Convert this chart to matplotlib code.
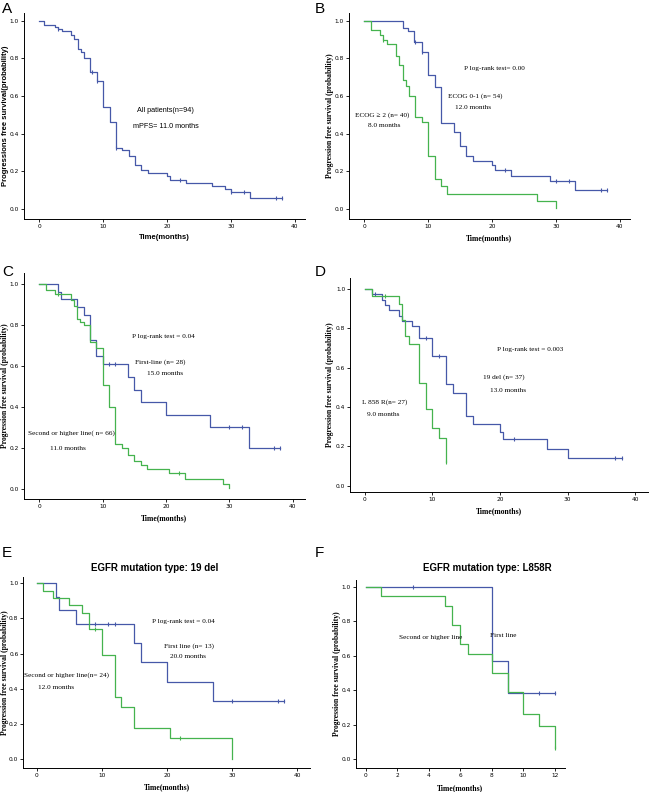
import matplotlib
matplotlib.use('Agg')
import matplotlib.pyplot as plt
import numpy as np

blue = '#4658a8'
green = '#45b34e'

# A - all patients
a_t = [0, 0.8, 2.5, 3, 3.5, 5, 5.5, 6, 6.6, 7, 8, 9, 10, 11, 12, 13, 14, 15, 16, 17, 20, 20.5, 23, 27, 29, 30, 33, 38]
a_s = [1.0, 0.979, 0.968, 0.957, 0.947, 0.926, 0.904, 0.851, 0.835, 0.80, 0.727, 0.68, 0.54, 0.463, 0.325, 0.31, 0.28, 0.233, 0.205, 0.188, 0.172, 0.155, 0.138, 0.122, 0.105, 0.087, 0.058, 0.058]
a_c = [3, 8.2, 9.1, 12, 22, 30, 32, 37, 38]

# B - ECOG
b1_t = [0, 6, 6.8, 7.8, 9, 10, 11, 12, 14, 15, 16, 17, 20, 20.5, 23, 29, 33, 38]
b1_s = [1.0, 0.963, 0.944, 0.889, 0.833, 0.713, 0.65, 0.456, 0.41, 0.333, 0.28, 0.255, 0.23, 0.204, 0.175, 0.145, 0.097, 0.097]
b1_c = [8, 9, 22, 30, 32, 37, 38]
b2_t = [0, 1, 2.5, 3, 3.5, 5, 5.5, 6, 6.5, 7, 8, 9, 10, 11, 12, 13, 27, 30]
b2_s = [1.0, 0.95, 0.925, 0.9, 0.875, 0.815, 0.765, 0.685, 0.655, 0.6, 0.49, 0.463, 0.278, 0.158, 0.12, 0.08, 0.04, 0.005]
b2_c = [3]

# C - treatment line
c1_t = [0, 3, 3.4, 5.9, 7, 8, 9, 10, 14, 15, 16, 20, 27, 33, 38]
c1_s = [1.0, 0.963, 0.926, 0.889, 0.85, 0.73, 0.65, 0.61, 0.546, 0.487, 0.426, 0.365, 0.304, 0.203, 0.203]
c1_c = [11, 12, 30, 32, 37, 38]
c2_t = [0, 1, 2.5, 5, 5.5, 6, 6.5, 7, 8, 9, 10, 11, 12, 13, 14, 15, 16, 17, 20.5, 23, 29, 30]
c2_s = [1.0, 0.97, 0.955, 0.925, 0.893, 0.833, 0.818, 0.8, 0.72, 0.69, 0.51, 0.404, 0.22, 0.2, 0.17, 0.138, 0.12, 0.1, 0.08, 0.053, 0.027, 0.005]
c2_c = [3, 22]

# D - mutation type
d1_t = [0, 1, 2.5, 3, 3.5, 5, 5.5, 7, 8, 10, 12, 13, 15, 16, 20, 20.5, 27, 30, 38]
d1_s = [1.0, 0.973, 0.946, 0.919, 0.892, 0.865, 0.838, 0.81, 0.75, 0.66, 0.515, 0.47, 0.355, 0.315, 0.275, 0.236, 0.189, 0.142, 0.142]
d1_c = [1.5, 9, 11, 22, 37, 38]
d2_t = [0, 1, 5, 5.5, 6, 6.5, 8, 9, 10, 11, 12]
d2_s = [1.0, 0.963, 0.925, 0.845, 0.76, 0.72, 0.52, 0.39, 0.293, 0.244, 0.12]
d2_c = [3, 12]

# E - 19 del by line
e1_t = [0, 3, 3.5, 6, 15, 16, 20, 27, 38]
e1_s = [1.0, 0.923, 0.846, 0.77, 0.66, 0.55, 0.44, 0.33, 0.33]
e1_c = [9, 11, 12, 30, 37, 38]
e2_t = [0, 1, 2.5, 5, 7, 8, 10, 12, 13, 15, 20.5, 30]
e2_s = [1.0, 0.958, 0.917, 0.875, 0.83, 0.74, 0.59, 0.355, 0.295, 0.177, 0.118, 0.0]
e2_c = [9, 22]

# F - L858R by line
f1_t = [0, 8, 9, 12]
f1_s = [1.0, 0.571, 0.382, 0.382]
f1_c = [3, 11, 12]
f2_t = [0, 1, 5, 5.5, 6, 6.5, 8, 9, 10, 11, 12]
f2_s = [1.0, 0.944, 0.889, 0.778, 0.667, 0.611, 0.5, 0.39, 0.26, 0.195, 0.065]
f2_c = [12]


def km(ax, t, s, cens, color):
    t = np.array(t, dtype=float)
    s = np.array(s, dtype=float)
    ax.step(t, s, where='post', color=color, lw=0.9)
    ct = np.array(cens, dtype=float)
    idx = np.searchsorted(t, ct, side='right') - 1
    ax.plot(ct, s[idx], '|', color=color, ms=3, mew=0.8)


def style(ax, xl, yl, ylab, serif, xticks, ylx):
    ax.set_xlim(*xl)
    ax.set_ylim(*yl)
    ax.spines['top'].set_visible(False)
    ax.spines['right'].set_visible(False)
    ax.spines['left'].set_linewidth(0.7)
    ax.spines['bottom'].set_linewidth(0.7)
    ax.set_yticks([0, 0.2, 0.4, 0.6, 0.8, 1.0])
    ax.set_yticklabels(['0.0', '0.2', '0.4', '0.6', '0.8', '1.0'])
    ax.set_xticks(xticks)
    ax.tick_params(length=2, width=0.6, labelsize=4.2, pad=1.5)
    fam = 'Liberation Serif' if serif else 'Liberation Sans'
    ax.set_xlabel('Time(months)', fontsize=5.5, fontweight='bold', family=fam, labelpad=4)
    ax.set_ylabel(ylab, fontsize=5.5, fontweight='bold', family=fam)
    ax.yaxis.set_label_coords(ylx, 0.5)


fig = plt.figure(figsize=(6.5, 7.92), dpi=100)

serif = 'Liberation Serif'
tk = dict(fontsize=5.2, family=serif, ha='center', va='center')

# A
ax = fig.add_axes([0.0369, 0.7235, 0.4323, 0.2597])
km(ax, a_t, a_s, a_c, blue)
style(ax, (-2.4, 41.6), (-0.055, 1.04), 'Progressions free survival(probability)', False, [0, 10, 20, 30, 40], -0.053)
ax.text(19.8, 0.525, 'All patients(n=94)', fontsize=5.2, family='Liberation Sans', ha='center', va='center')
ax.text(19.8, 0.44, 'mPFS= 11.0 months', fontsize=5.2, family='Liberation Sans', ha='center', va='center')

# B
ax = fig.add_axes([0.5369, 0.7235, 0.4323, 0.2597])
km(ax, b1_t, b1_s, b1_c, blue)
km(ax, b2_t, b2_s, b2_c, green)
style(ax, (-2.4, 41.6), (-0.055, 1.04), 'Progression free survival (probability)', True, [0, 10, 20, 30, 40], -0.053)
ax.text(20.4, 0.747, 'P log-rank test= 0.00', **tk)
ax.text(17.3, 0.597, 'ECOG 0-1 (n= 54)', **tk)
ax.text(17.0, 0.54, '12.0 months', **tk)
ax.text(2.8, 0.5, 'ECOG \u2265 2 (n= 40)', **tk)
ax.text(3.2, 0.442, '8.0 months', **tk)

# C
ax = fig.add_axes([0.0369, 0.3699, 0.4323, 0.2854])
km(ax, c1_t, c1_s, c1_c, blue)
km(ax, c2_t, c2_s, c2_c, green)
style(ax, (-2.4, 41.9), (-0.047, 1.055), 'Progression free survival (probability)', True, [0, 10, 20, 30, 40], -0.053)
ax.text(19.6, 0.745, 'P log-rank test = 0.04', **tk)
ax.text(19.05, 0.623, 'First-line (n= 28)', **tk)
ax.text(19.9, 0.563, '15.0 months', **tk)
ax.text(5.1, 0.273, 'Second or higher line( n= 66)', **tk)
ax.text(4.6, 0.2, '11.0 months', **tk)

# D
ax = fig.add_axes([0.5385, 0.3792, 0.4585, 0.2698])
km(ax, d1_t, d1_s, d1_c, blue)
km(ax, d2_t, d2_s, d2_c, green)
style(ax, (-2.2, 41.9), (-0.03, 1.056), 'Progression free survival (probability)', True, [0, 10, 20, 30, 40], -0.054)
ax.text(24.5, 0.693, 'P log-rank test = 0.003', **tk)
ax.text(20.5, 0.55, '19 del (n= 37)', **tk)
ax.text(21.2, 0.486, '13.0 months', **tk)
ax.text(3.0, 0.427, 'L 858 R(n= 27)', **tk)
ax.text(2.7, 0.363, '9.0 months', **tk)

# E
ax = fig.add_axes([0.0358, 0.0303, 0.4411, 0.2415])
km(ax, e1_t, e1_s, e1_c, blue)
km(ax, e2_t, e2_s, e2_c, green)
style(ax, (-2.06, 41.95), (-0.05, 1.037), 'Progression free survival (probability)', True, [0, 10, 20, 30, 40], -0.05)
ax.text(22.5, 0.782, 'P log-rank test = 0.04', **tk)
ax.text(23.4, 0.64, 'First line (n= 13)', **tk)
ax.text(23.3, 0.583, '20.0 months', **tk)
ax.text(4.5, 0.48, 'Second or higher line(n= 24)', **tk)
ax.text(3.0, 0.41, '12.0 months', **tk)

# F
ax = fig.add_axes([0.5472, 0.0299, 0.322, 0.2378])
km(ax, f1_t, f1_s, f1_c, blue)
km(ax, f2_t, f2_s, f2_c, green)
style(ax, (-0.63, 12.63), (-0.052, 1.039), 'Progression free survival (probability)', True, [0, 2, 4, 6, 8, 10, 12], -0.072)
ax.text(8.7, 0.718, 'First line', **tk)
ax.text(4.1, 0.707, 'Second or higher line', **tk)

fig.text(0.238, 0.283, 'EGFR mutation type: 19 del', fontsize=7, fontweight='bold', family='Liberation Sans', ha='center', va='center')
fig.text(0.749, 0.283, 'EGFR mutation type: L858R', fontsize=7, fontweight='bold', family='Liberation Sans', ha='center', va='center')

for lab, x, y in [('A', 0.003, 0.997), ('B', 0.484, 0.997), ('C', 0.003, 0.666),
                  ('D', 0.484, 0.666), ('E', 0.003, 0.31), ('F', 0.484, 0.31)]:
    fig.text(x, y, lab, fontsize=11, family='Liberation Sans', ha='left', va='top')

fig.savefig('out.png', dpi=100)
